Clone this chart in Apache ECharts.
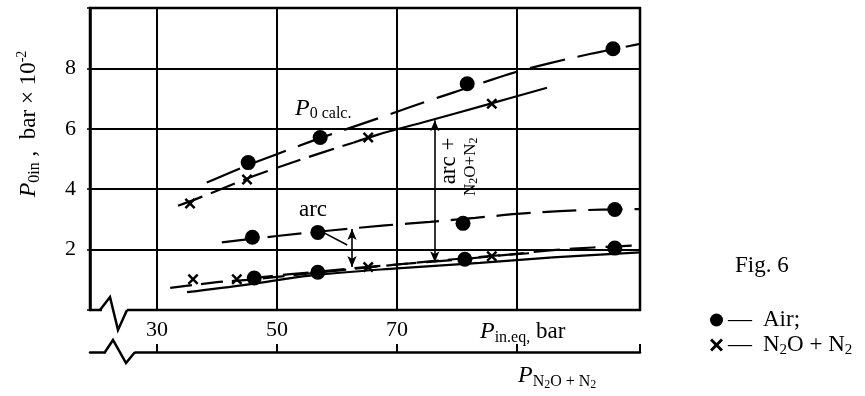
<!DOCTYPE html>
<html><head><meta charset="utf-8">
<script src="https://cdn.jsdelivr.net/npm/echarts@6/dist/echarts.min.js"></script>
<style>html,body{margin:0;padding:0;background:#fff}#c{width:865px;height:396px}</style>
</head><body><div id="c"></div>
<script>
const FONT = '"Liberation Serif", "Times New Roman", serif';

// axis ticks / labels
const xTickLabels = [30, 50, 70];
const xGridLines = [30, 50, 70, 90];
const x2Ticks = [30, 50, 70, 90, 110.5];
const yTickLabels = [2, 4, 6, 8];
const X_MIN = 18.83, X_MAX = 110.5, Y_MIN = 0, Y_MAX = 10;

// fitted curves  [P_in.eq (bar), P_0in (bar x10^-2)]
const airUpperCurve  = [[38.3,4.22],[45.2,4.8],[50.5,5.2],[57.2,5.69],[67.2,6.37],[76.3,7.0],[81.7,7.35],[88.8,7.82],[95,8.15],[102.7,8.5],[110.5,8.81]];
const n2oUpperCurve  = [[33.5,3.45],[37.2,3.73],[43,4.19],[46.7,4.48],[55,5.05],[62.7,5.54]];
const calcUpperCurve = [[62.7,5.54],[66.7,5.8],[75,6.25],[85,6.8],[95,7.36]];
const arcCurve       = [[40.8,2.24],[50,2.45],[59.3,2.64],[68,2.8],[75.5,2.92],[83,3.05],[90,3.18],[100,3.3],[110.5,3.34]];
const airLowerCurve  = [[45,1.04],[51.8,1.18],[56.8,1.27],[67.7,1.47],[81.3,1.69],[96,1.98],[102.7,2.07],[110.5,2.14]];
const n2oLowerCurve  = [[32.2,0.73],[40,0.92],[45,1.0],[55,1.2],[65.2,1.41],[75,1.6],[85.8,1.79],[92,1.88]];
const calcLowerCurve = [[35,0.59],[45,0.84],[55.5,1.14],[70,1.38],[83.8,1.56],[96,1.74],[110.5,1.91]];

// measured points
const airPoints = [[45.2,4.88],[57.2,5.71],[81.7,7.49],[106,8.65],
                   [45.9,2.41],[56.8,2.57],[81,2.87],[106.3,3.33],
                   [46.2,1.06],[56.8,1.25],[81.3,1.68],[106.3,2.05]];
const n2oPoints = [[35.5,3.53],[45,4.32],[65.2,5.71],[85.8,6.83],
                   [36,1.02],[43.3,1.02],[65.2,1.42],[85.8,1.78]];

// annotation arrows (data coordinates)
const arcArrow = [[62.5,2.68],[62.5,1.42]];
const totalArrow = [[76.3,1.58],[76.3,6.28]];
const arcLeader = [[57.7,2.57],[61.7,2.15]];

const BLACK = '#000';
const xPath = 'path://M0,1.6L1.6,0L5,3.4L8.4,0L10,1.6L6.6,5L10,8.4L8.4,10L5,6.6L1.6,10L0,8.4L3.4,5Z';

function curve(name, data, dash) {
  return {name, type:'line', data, xAxisIndex:0, yAxisIndex:0, symbol:'none', showSymbol:false,
    smooth:0.35, silent:true, z:3, lineStyle:{color:BLACK, width:2.2, type:dash, cap:'butt', opacity:1}};
}

const chart = echarts.init(document.getElementById('c'));

const gridMarks = {silent:true, symbol:['none','none'], animation:false,
  lineStyle:{color:BLACK, width:2, type:'solid', opacity:1}, label:{show:false},
  data: xGridLines.map(v => ({xAxis:v}))};

const arrowMarks = {silent:true, symbol:['arrow','arrow'], symbolSize:[7,11], animation:false,
  itemStyle:{color:BLACK, opacity:1},
  lineStyle:{color:BLACK, width:1.6, type:'solid', opacity:1}, label:{show:false},
  data: [
    [{coord:arcArrow[0]},{coord:arcArrow[1]}],
    [{coord:totalArrow[0]},{coord:totalArrow[1]}],
    [{coord:arcLeader[0], symbol:'none'},{coord:arcLeader[1], symbol:'none'}]
  ]};

const option = {
  animation:false,
  backgroundColor:'#fff',
  grid:{left:90, right:225, top:8, bottom:86, show:true, borderColor:BLACK, borderWidth:2.5, outerBoundsMode:'none', containLabel:false},
  xAxis:[
    {type:'value', min:X_MIN, max:X_MAX, position:'bottom',
     axisLine:{show:false}, axisTick:{show:false}, splitLine:{show:false},
     axisLabel:{customValues:xTickLabels, color:BLACK, fontFamily:FONT, fontSize:22, margin:9}},
    {type:'value', min:X_MIN, max:X_MAX, position:'bottom', offset:42,
     axisLine:{show:true, lineStyle:{color:BLACK, width:2.5}},
     axisTick:{show:true, inside:true, length:8, customValues:x2Ticks, lineStyle:{color:BLACK, width:2}},
     axisLabel:{show:false}, splitLine:{show:false}}
  ],
  yAxis:{type:'value', min:Y_MIN, max:Y_MAX, interval:2,
    axisLine:{show:true, lineStyle:{color:BLACK, width:2.5}},
    axisTick:{show:true, length:3, lineStyle:{color:BLACK, width:1.5}},
    axisLabel:{customValues:yTickLabels, color:BLACK, fontFamily:FONT, fontSize:22, margin:14},
    splitLine:{show:true, lineStyle:{color:BLACK, width:2}}},
  legend:{show:true, orient:'vertical', left:705, top:303, itemGap:1, itemWidth:13, itemHeight:13,
    selectedMode:false,
    itemStyle:{color:BLACK, opacity:1},
    data:[{name:'Air', icon:'circle'},{name:'N2O+N2', icon:xPath}],
    formatter: n => n === 'Air' ? '{d|—}{t|Air;}' : '{d|—}{t|N}{s|2}{t|O + N}{s|2}',
    textStyle:{color:BLACK, fontFamily:FONT, fontSize:23, lineHeight:24,
      rich:{
        d:{fontSize:24, width:35, fontFamily:FONT, color:BLACK, lineHeight:24},
        t:{fontSize:23, fontFamily:FONT, color:BLACK, lineHeight:24, verticalAlign:'middle'},
        s:{fontSize:15, fontFamily:FONT, color:BLACK, height:13, lineHeight:13, verticalAlign:'bottom'}
      }}},
  series:[
    curve('airUpper', airUpperCurve, [36,13]),
    curve('n2oUpper', n2oUpperCurve, [26,9]),
    Object.assign(curve('calcUpper', calcUpperCurve, 'solid'), {markLine:arrowMarks}),
    curve('arc', arcCurve, [34,12]),
    curve('airLower', airLowerCurve, [26,10]),
    curve('n2oLower', n2oLowerCurve, [22,9]),
    Object.assign(curve('calcLower', calcLowerCurve, 'solid'), {markLine:gridMarks}),
    {name:'Air', type:'scatter', data:airPoints, symbol:'circle', symbolSize:15, itemStyle:{color:BLACK, opacity:1}, z:5, silent:true},
    {name:'N2O+N2', type:'scatter', data:n2oPoints, symbol:xPath, symbolSize:11, itemStyle:{color:BLACK, opacity:1}, z:5, silent:true}
  ]
};
chart.setOption(option);

const rich = {
  p:{fontFamily:FONT, fontSize:24, fontStyle:'italic', fill:BLACK, lineHeight:28, verticalAlign:'middle'},
  m:{fontFamily:FONT, fontSize:23, fill:BLACK, lineHeight:28, verticalAlign:'middle'},
  s:{fontFamily:FONT, fontSize:16, fill:BLACK, height:16, lineHeight:16, verticalAlign:'bottom'},
  u:{fontFamily:FONT, fontSize:14, fill:BLACK, height:14, lineHeight:14, verticalAlign:'top'},
  n:{fontFamily:FONT, fontSize:17, fill:BLACK, lineHeight:20, verticalAlign:'middle'},
  b:{fontFamily:FONT, fontSize:12, fill:BLACK, height:12, lineHeight:12, verticalAlign:'bottom'},
  b2:{fontFamily:FONT, fontSize:12, fill:BLACK, height:10, lineHeight:10, verticalAlign:'bottom'}
};
function textEl(x, y, text, align, rotation) {
  return {type:'text', x, y, rotation:rotation||0, z:100,
    style:{text, rich, fill:BLACK, font:'23px ' + FONT, align, verticalAlign:'middle', textAlign:align, textVerticalAlign:'middle'}};
}
const toPx = p => chart.convertToPixel({seriesIndex:0}, p);

const notes = [
  {at:[53,6.68], text:'{p|P}{s|0 calc.}', align:'left'},
  {at:[56,3.3], text:'{m|arc}', align:'center'},
  {at:[78.67,5.71], text:'{m|arc +}', align:'right', rot:Math.PI/2},
  {at:[82.2,5.71], text:'{n|N}{b|2}{n|O+N}{b|2}', align:'right', rot:Math.PI/2}
];

const graphics = [
  {type:'rect', shape:{x:102, y:304, width:25, height:11}, style:{fill:'#fff'}, z:99},
  {type:'polyline', shape:{points:[[100,310],[110,297],[118,330],[127,310]]}, style:{stroke:BLACK, lineWidth:2.5, fill:null}, z:100},
  {type:'rect', shape:{x:106, y:347, width:29, height:10}, style:{fill:'#fff'}, z:99},
  {type:'polyline', shape:{points:[[105,352],[113,340],[126,363],[135,352]]}, style:{stroke:BLACK, lineWidth:2.5, fill:null}, z:100},
  textEl(29, 124, '{p|P}{s|0in}{m| ,  bar × 10}{u|-2}', 'center', Math.PI/2),
  textEl(480, 332, '{p|P}{s|in.eq,}{m| bar}', 'left'),
  textEl(518, 376, '{p|P}{s|N}{b2|2}{s|O + N}{b2|2}', 'left'),
  textEl(735, 266, '{m|Fig. 6}', 'left')
];
notes.forEach(n => {
  const p = toPx(n.at);
  graphics.push(textEl(p[0], p[1], n.text, n.align, n.rot));
});
chart.setOption({graphic:graphics});
</script>
</body></html>
